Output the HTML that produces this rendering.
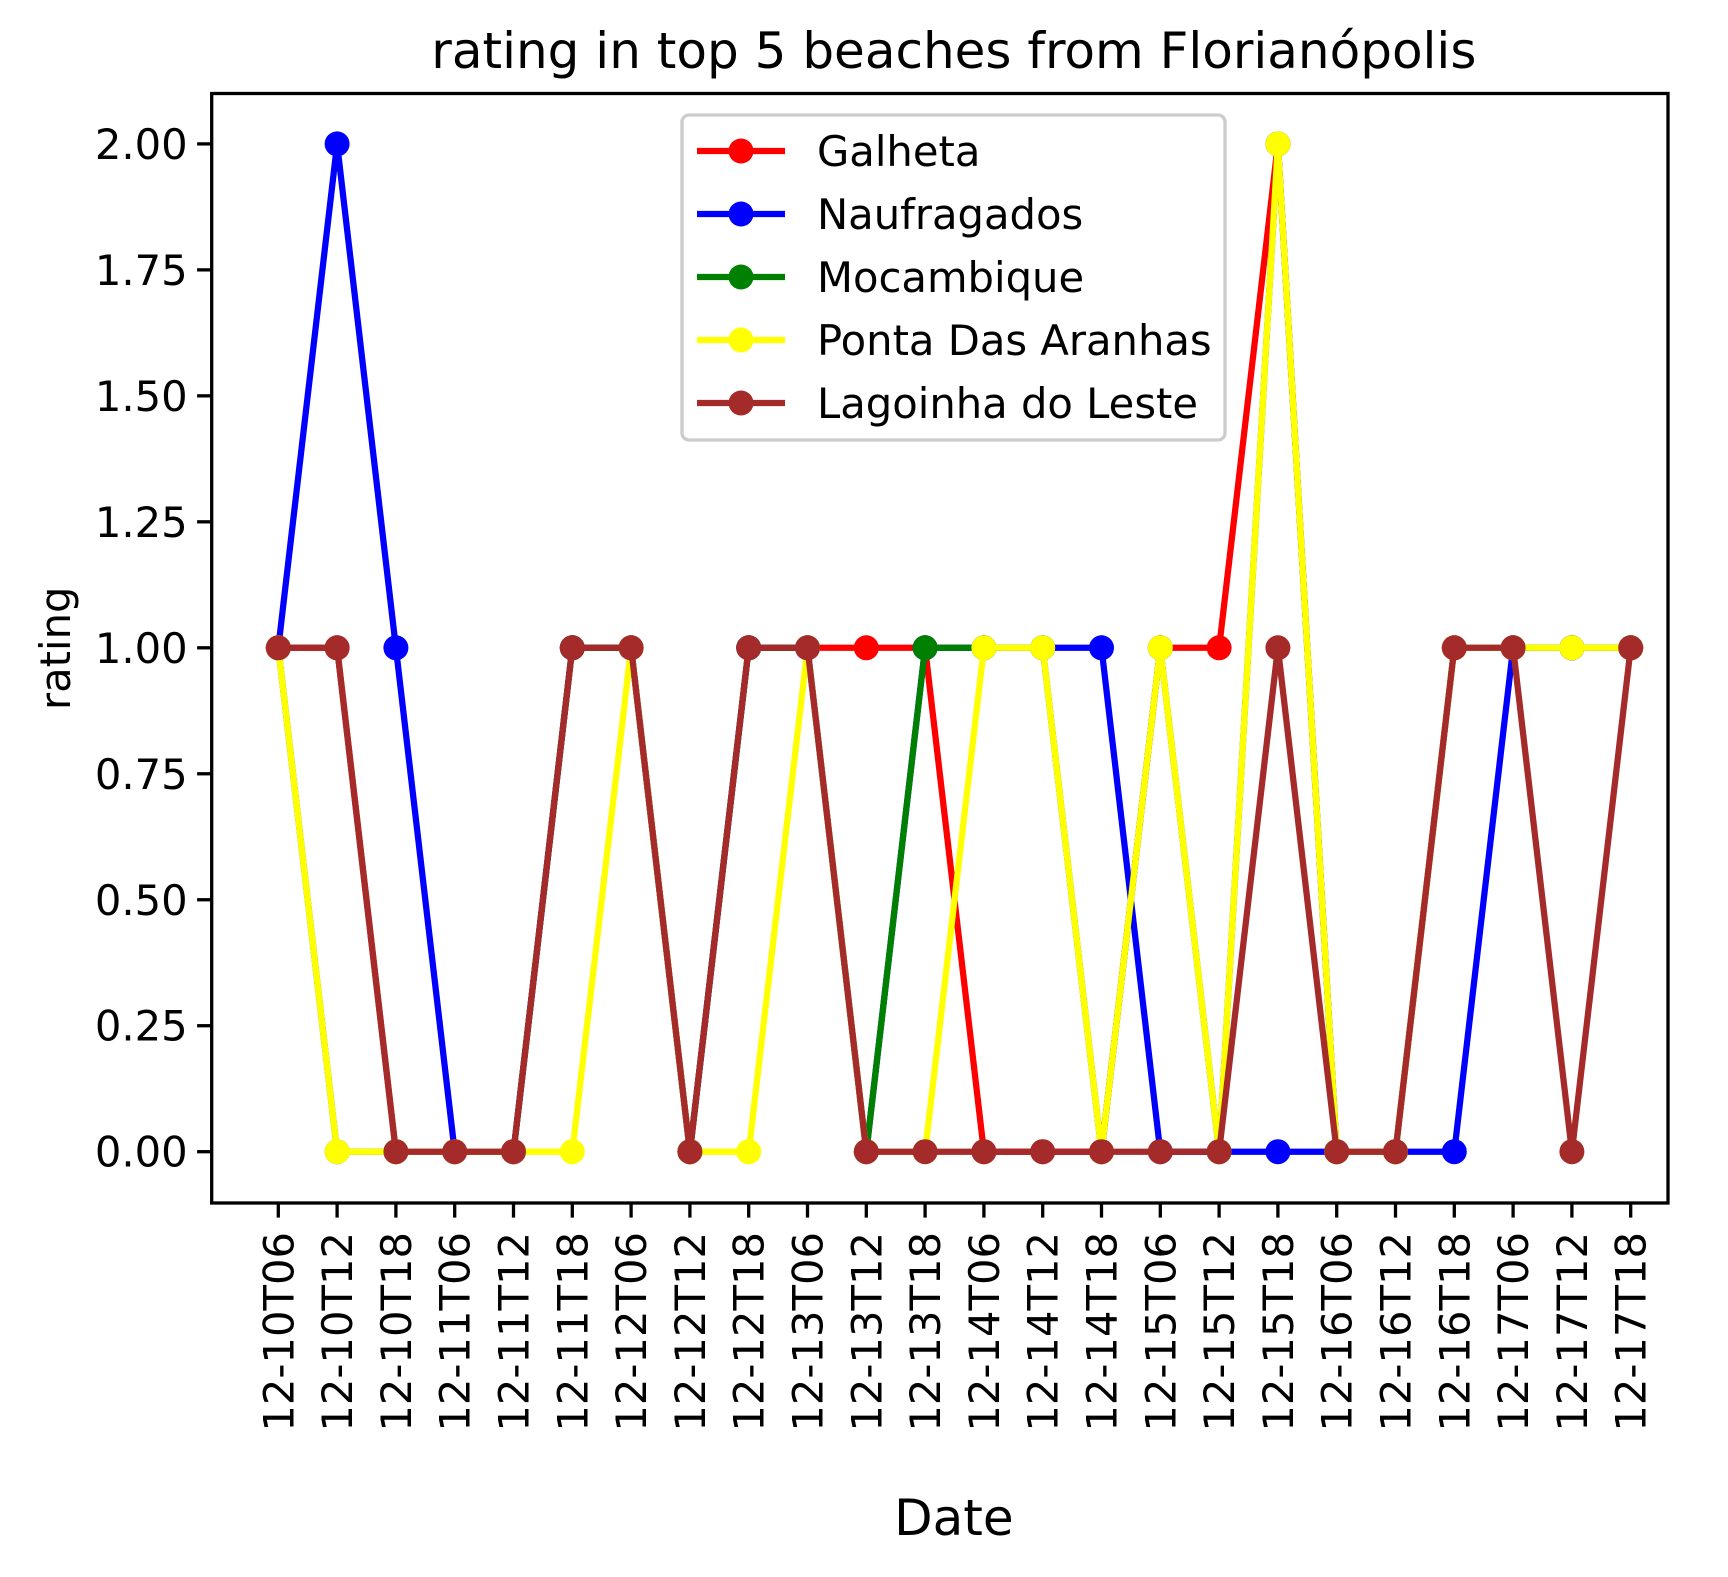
<!DOCTYPE html>
<html><head><meta charset="utf-8"><style>
html,body{margin:0;padding:0;background:#fff;}
svg text{font-family:"DejaVu Sans","Liberation Sans",sans-serif;}
</style></head><body>
<svg id="chart" width="1728" height="1572" viewBox="0 0 1728 1572" xmlns="http://www.w3.org/2000/svg">
<rect width="1728" height="1572" fill="#fff"/>
<g id="plot"></g>
</svg>
<script>
const categories = ["12-10T06","12-10T12","12-10T18","12-11T06","12-11T12","12-11T18","12-12T06","12-12T12","12-12T18","12-13T06","12-13T12","12-13T18","12-14T06","12-14T12","12-14T18","12-15T06","12-15T12","12-15T18","12-16T06","12-16T12","12-16T18","12-17T06","12-17T12","12-17T18"];
const galheta     = [1,1,0,0,0,1,1,0,1,1,1,1,0,0,0,1,1,2,0,0,1,1,1,1];
const naufragados = [1,2,1,0,0,1,1,0,1,1,0,1,1,1,1,0,0,0,0,0,0,1,1,1];
const mocambique  = [1,0,0,0,0,1,1,0,1,1,0,1,1,1,0,1,0,2,0,0,1,1,1,1];
const pontaDas    = [1,0,0,0,0,0,1,0,0,1,0,0,1,1,0,1,0,2,0,0,1,1,1,1];
const lagoinha    = [1,1,0,0,0,1,1,0,1,1,0,0,0,0,0,0,0,1,0,0,1,1,0,1];
const yTicks = [0,0.25,0.5,0.75,1.0,1.25,1.5,1.75,2.0];
const seriesNames = ["Galheta","Naufragados","Mocambique","Ponta Das Aranhas","Lagoinha do Leste"];
const seriesColors = ["#ff0000","#0000ff","#008000","#ffff00","#a52a2a"];
const seriesData = [galheta,naufragados,mocambique,pontaDas,lagoinha];

const NS="http://www.w3.org/2000/svg";
const svg=document.getElementById('chart');
const L=211.7,R=1668,T=93.5,B=1203;
const x0=278.3,dx=58.8;
function xs(i){return x0+i*dx;}
function ys(v){return 1151.7-(v)*503.9;}
function mk(tag,attrs,parent){const e=document.createElementNS(NS,tag);for(const k in attrs)e.setAttribute(k,attrs[k]);(parent||svg).appendChild(e);return e;}

seriesData.forEach((d,s)=>{
  const g=mk('g',{});
  
  
  const pts=d.map((v,i)=>xs(i)+','+ys(v)).join(' ');
  const pl=mk('polyline',{points:pts,fill:'none',stroke:seriesColors[s],'stroke-width':6.25,'stroke-linejoin':'round'},g);
  
  
  d.forEach((v,i)=>{
    const c=mk('circle',{cx:xs(i),cy:ys(v),r:12.5,fill:seriesColors[s]},g);
    
    
  });
});

const fr=mk('rect',{x:L,y:T,width:R-L,height:B-T,fill:'none',stroke:'#000','stroke-width':3.3});



yTicks.forEach(v=>{
  const y=ys(v);
  mk('line',{x1:L-14.6,x2:L,y1:y,y2:y,stroke:'#000','stroke-width':3.3});
  const t=mk('text',{x:L-24,y:y+15,'text-anchor':'end','font-size':41.7,fill:'#000'});
  t.textContent=v.toFixed(2);
  
  
});
categories.forEach((c,i)=>{
  const x=xs(i);
  mk('line',{x1:x,x2:x,y1:B,y2:B+14.6,stroke:'#000','stroke-width':3.3});
  const t=mk('text',{x:0,y:0,'text-anchor':'end','font-size':41.7,fill:'#000',transform:`translate(${x+15},${B+29}) rotate(-90)`});
  t.textContent=c;
  
  
});

let t=mk('text',{x:(L+R)/2+14,y:68,'text-anchor':'middle','font-size':50,fill:'#000'});
t.textContent='rating in top 5 beaches from Florianópolis';

t=mk('text',{x:0,y:0,'text-anchor':'middle','font-size':41.7,fill:'#000',transform:`translate(70,${(T+B)/2}) rotate(-90)`});
t.textContent='rating';

t=mk('text',{x:(L+R)/2+14,y:1535,'text-anchor':'middle','font-size':50,fill:'#000'});
t.textContent='Date';


const lg=mk('g',{});

mk('rect',{x:682,y:115,width:543,height:325,rx:7,fill:'#fff','fill-opacity':0.8,stroke:'#ccc','stroke-width':3.3},lg);
seriesNames.forEach((n,s)=>{
  const y=151+s*63;
  const e=mk('g',{},lg);
  
  mk('line',{x1:697,x2:785,y1:y,y2:y,stroke:seriesColors[s],'stroke-width':6.25},e);
  mk('circle',{cx:741,cy:y,r:12.5,fill:seriesColors[s]},e);
  const tx=mk('text',{x:817,y:y+15,'font-size':41.7,fill:'#000'},e);
  tx.textContent=n;
});
</script>
</body></html>
